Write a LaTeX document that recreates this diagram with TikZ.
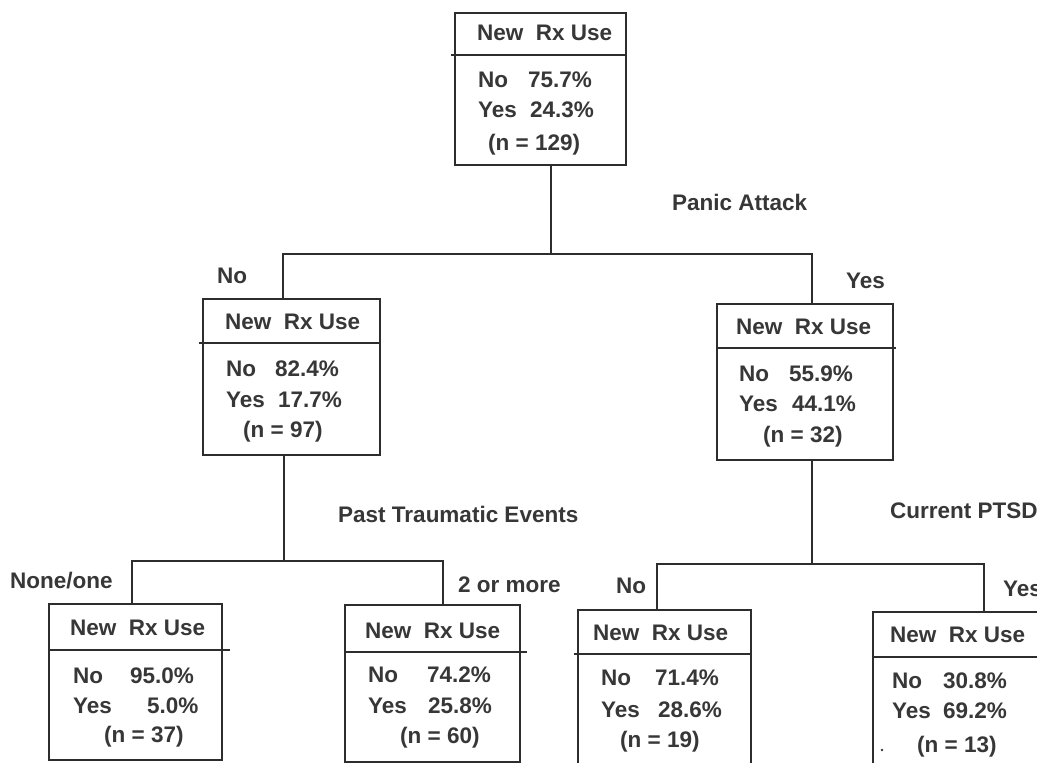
\documentclass[tikz,border=0pt]{standalone}
\usepackage{fontspec}
\setmainfont{Liberation Sans}
\definecolor{lc}{RGB}{45,45,45}
\definecolor{tc}{RGB}{55,55,55}
\begin{document}
\begin{tikzpicture}[x=1pt,y=-1pt,
  ln/.style={draw=lc, line width=2.6pt},
  bx/.style={draw=lc, line width=2.6pt, rectangle, inner sep=0pt, outer sep=0pt, anchor=north west},
  tx/.style={text=tc, font=\bfseries\fontsize{22.5}{26}\selectfont, inner sep=0pt, anchor=base west}]
\useasboundingbox (0,0) rectangle (1037,763);
\fill[white] (0,0) rectangle (1037,763);
\clip (0,0) rectangle (1037,763);

% ---------- boxes ----------
\node[bx, minimum width=171pt, minimum height=152pt] (T) at (455,13) {};
\draw[ln] ([xshift=-4pt]T.west |- 0,55) -- (T.east |- 0,55);
\node[tx] (Th) at (477,40) {New~~Rx Use};
\node[tx] (Tn) at (478,87) {No};   \node[tx] (Tnp) at (528,87) {75.7\%};
\node[tx] (Ty) at (478,117) {Yes}; \node[tx] (Typ) at (530,117) {24.3\%};
\node[tx] (Tc) at (488,150) {(n = 129)};

\node[bx, minimum width=177pt, minimum height=156pt] (L) at (203,299) {};
\draw[ln] ([xshift=-4pt]L.west |- 0,343) -- (L.east |- 0,343);
\node[tx] (Lh) at (225,329) {New~~Rx Use};
\node[tx] (Ln) at (226,376) {No};   \node[tx] (Lnp) at (275,376) {82.4\%};
\node[tx] (Ly) at (226,407) {Yes};  \node[tx] (Lyp) at (278,407) {17.7\%};
\node[tx] (Lc) at (243,437) {(n = 97)};

\node[bx, minimum width=176pt, minimum height=156pt] (R) at (717,304) {};
\draw[ln] (R.west |- 0,348) -- ([xshift=3pt]R.east |- 0,348);
\node[tx] (Rh) at (736,334) {New~~Rx Use};
\node[tx] (Rn) at (739,381) {No};   \node[tx] (Rnp) at (789,381) {55.9\%};
\node[tx] (Ry) at (739,411) {Yes};  \node[tx] (Ryp) at (792,411) {44.1\%};
\node[tx] (Rc) at (763,442) {(n = 32)};

\node[bx, minimum width=173pt, minimum height=156pt] (BL) at (49,604) {};
\draw[ln] (BL.west |- 0,650) -- ([xshift=8pt]BL.east |- 0,650);
\node[tx] (BLh) at (70,635) {New~~Rx Use};
\node[tx] (BLn) at (73,683) {No};   \node[tx] (BLnp) at (130,683) {95.0\%};
\node[tx] (BLy) at (73,713) {Yes};  \node[tx] (BLyp) at (147,713) {5.0\%};
\node[tx] (BLc) at (104,742) {(n = 37)};

\node[bx, minimum width=175pt, minimum height=157pt] (BM) at (345,605) {};
\draw[ln] (BM.west |- 0,652) -- ([xshift=7pt]BM.east |- 0,652);
\node[tx] (BMh) at (365,638) {New~~Rx Use};
\node[tx] (BMn) at (368,682) {No};   \node[tx] (BMnp) at (427,682) {74.2\%};
\node[tx] (BMy) at (368,713) {Yes};  \node[tx] (BMyp) at (428,713) {25.8\%};
\node[tx] (BMc) at (400,743) {(n = 60)};

\node[bx, minimum width=173pt, minimum height=180pt] (BR) at (578,610) {};
\draw[ln] ([xshift=-4pt]BR.west |- 0,654) -- (BR.east |- 0,654);
\node[tx] (BRh) at (593,640) {New~~Rx Use};
\node[tx] (BRn) at (601,685) {No};   \node[tx] (BRnp) at (655,685) {71.4\%};
\node[tx] (BRy) at (601,717) {Yes};  \node[tx] (BRyp) at (658,717) {28.6\%};
\node[tx] (BRc) at (620,747) {(n = 19)};

\node[bx, minimum width=190pt, minimum height=180pt] (BX) at (873,612) {};
\draw[ln] (BX.west |- 0,657) -- (BX.east |- 0,657);
\node[tx] (BXh) at (890,642) {New~~Rx Use};
\node[tx] (BXn) at (892,688) {No};   \node[tx] (BXnp) at (943,688) {30.8\%};
\node[tx] (BXy) at (892,718) {Yes};  \node[tx] (BXyp) at (943,718) {69.2\%};
\node[tx] (BXc) at (917,752) {(n = 13)};
\fill[tc] (882,750) circle (1.4pt);

% ---------- split labels ----------
\node[tx] (s1) at (672,210) {Panic Attack};
\node[tx] (s1n) at (217,283) {No};
\node[tx] (s1y) at (846,288) {Yes};
\node[tx] (s2) at (338,522) {Past Traumatic Events};
\node[tx] (s2n) at (10,588) {None/one};
\node[tx] (s2y) at (458,592) {2 or more};
\node[tx] (s3) at (890,518) {Current PTSD};
\node[tx] (s3n) at (616,593) {No};
\node[tx] (s3y) at (1003,596) {Yes};

% ---------- connectors ----------
\coordinate (jT) at (551,254);
\coordinate (jTL) at (283,254);
\coordinate (jTR) at (812,254);
\draw[ln] (T.south -| jT) -- (jT);
\draw[ln] (jTL |- L.north) -- (jTL) -- (jTR) -- (jTR |- R.north);

\coordinate (jL) at (284,561);
\coordinate (jLL) at (132,561);
\coordinate (jLR) at (443,561);
\draw[ln] (L.south -| jL) -- (jL);
\draw[ln] (jLL |- BL.north) -- (jLL) -- (jLR) -- (jLR |- BM.north);

\coordinate (jR) at (812,564);
\coordinate (jRL) at (657,564);
\coordinate (jRR) at (984,564);
\draw[ln] (R.south -| jR) -- (jR);
\draw[ln] (jRL |- BR.north) -- (jRL) -- (jRR) -- (jRR |- BX.north);
\end{tikzpicture}
\end{document}
